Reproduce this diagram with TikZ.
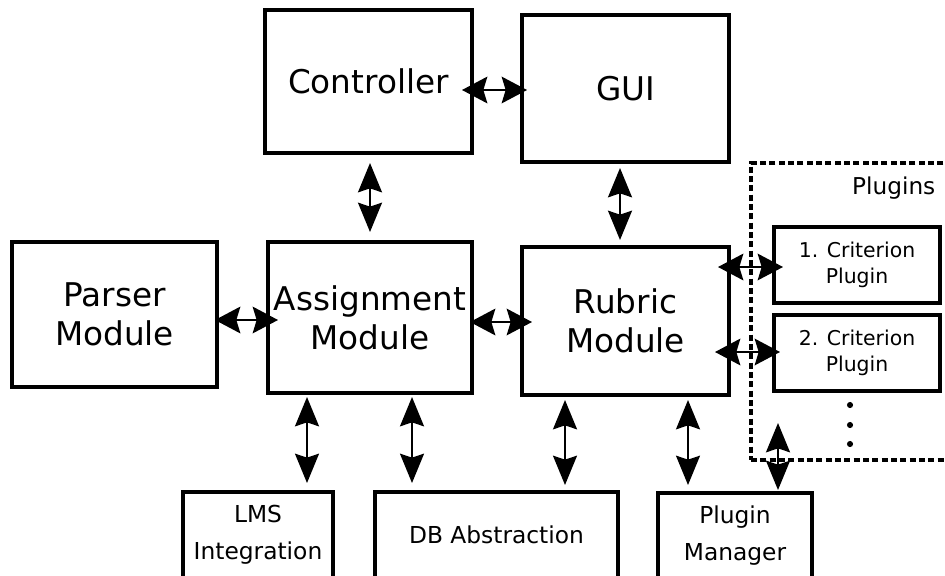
\documentclass[tikz,border=0pt]{standalone}
\usepackage{fontspec}
\setmainfont{DejaVu Sans}
\usetikzlibrary{arrows.meta,calc}
\begin{document}
\begin{tikzpicture}[x=0.75pt,y=-0.75pt,
  box/.style={draw, line width=2.6pt, inner sep=0pt, outer sep=0pt, align=center},
  bx/.style 2 args={minimum width=#1*0.75pt, minimum height=#2*0.75pt},
  big/.style={font=\fontsize{24.5}{29}\selectfont},
  small/.style={font=\fontsize{15.3}{20}\selectfont},
  mid/.style={font=\fontsize{17.5}{27.5}\selectfont},
  harrow/.style={line width=1.5pt,
    {Stealth[length=19pt,width=20pt,inset=3pt]}-{Stealth[length=19pt,width=20pt,inset=3pt]}},
  varrow/.style={line width=1.5pt,
    {Stealth[length=22pt,width=18pt,inset=3pt]}-{Stealth[length=22pt,width=18pt,inset=3pt]}},
  dashbox/.style={draw, line width=2.4pt, dash pattern=on 4.5pt off 2.5pt, inner sep=0pt, outer sep=0pt},
]
\useasboundingbox (0,0) rectangle (945,575);
\clip (0,0) rectangle (945,575);

% main boxes
\node[box,big,bx={207}{143}] (ctrl) at (368.5,81.5) {Controller};
\node[box,big,bx={207}{147}] (gui) at (625.5,88.5) {GUI};
\node[box,big,bx={205}{145}] (parser) at (114.5,314.5) {Parser\\Module};
\node[box,big,bx={204}{151}] (assign) at (370,317.5) {Assignment\\Module};
\node[box,big,bx={207}{148}] (rubric) at (625.5,321) {Rubric\\Module};

% plugins group
\node[dashbox,bx={209}{297}] (plugins) at (855.5,311.5) {};
\node[anchor=base east,font=\fontsize{17.4}{20}\selectfont] (pluginslabel) at (940,194) {Plugins};
\node[box,small,bx={166}{76}] (p1) at (857,265) {1. Criterion\\Plugin};
\node[box,small,bx={166}{76}] (p2) at (857,353) {2. Criterion\\Plugin};
\fill (850,405) circle (2.3pt);
\fill (850,425) circle (2.3pt);
\fill (850,444) circle (2.3pt);

% bottom boxes
\node[box,mid,bx={150}{86}] (lms) at (258,535) {LMS\\Integration};
\node[box,mid,bx={243}{86}] (db) at (496.5,535) {DB Abstraction};
\node[box,mid,bx={154}{85}] (pm) at (735,535.5) {Plugin\\Manager};

% horizontal arrows
\draw[harrow] ($(ctrl.east)+(-10,8.5)$) -- ($(gui.west)+(5,1.5)$);
\draw[harrow] ($(parser.east)+(-2,5.5)$) -- ($(assign.west)+(10,2.5)$);
\draw[harrow] ($(assign.east)+(-2,4.5)$) -- ($(rubric.west)+(10,1)$);
\draw[harrow] ($(rubric.north east)+(-11,20)$) -- ($(p1.west)+(9,2)$);
\draw[harrow] ($(rubric.south east)+(-14,-43)$) -- ($(p2.west)+(6,-1)$);

% vertical arrows
\draw[varrow] ($(ctrl.south)+(1.5,10)$) -- ($(assign.north)+(0,-10)$);
\draw[varrow] ($(gui.south)+(-5.5,6)$) -- ($(rubric.north)+(-5.5,-7)$);
\draw[varrow] ($(assign.south west)+(39,4)$) -- ($(lms.north east)+(-26,-9)$);
\draw[varrow] ($(assign.south east)+(-60,4)$) -- ($(db.north west)+(37,-9)$);
\draw[varrow] ($(rubric.south west)+(43,5)$) -- ($(db.north east)+(-53,-7)$);
\draw[varrow] ($(rubric.south east)+(-41,5)$) -- ($(pm.north west)+(30,-8)$);
\draw[varrow] ($(plugins.south west)+(27,-37)$) -- ($(pm.north east)+(-34,-3)$);
\end{tikzpicture}
\end{document}
